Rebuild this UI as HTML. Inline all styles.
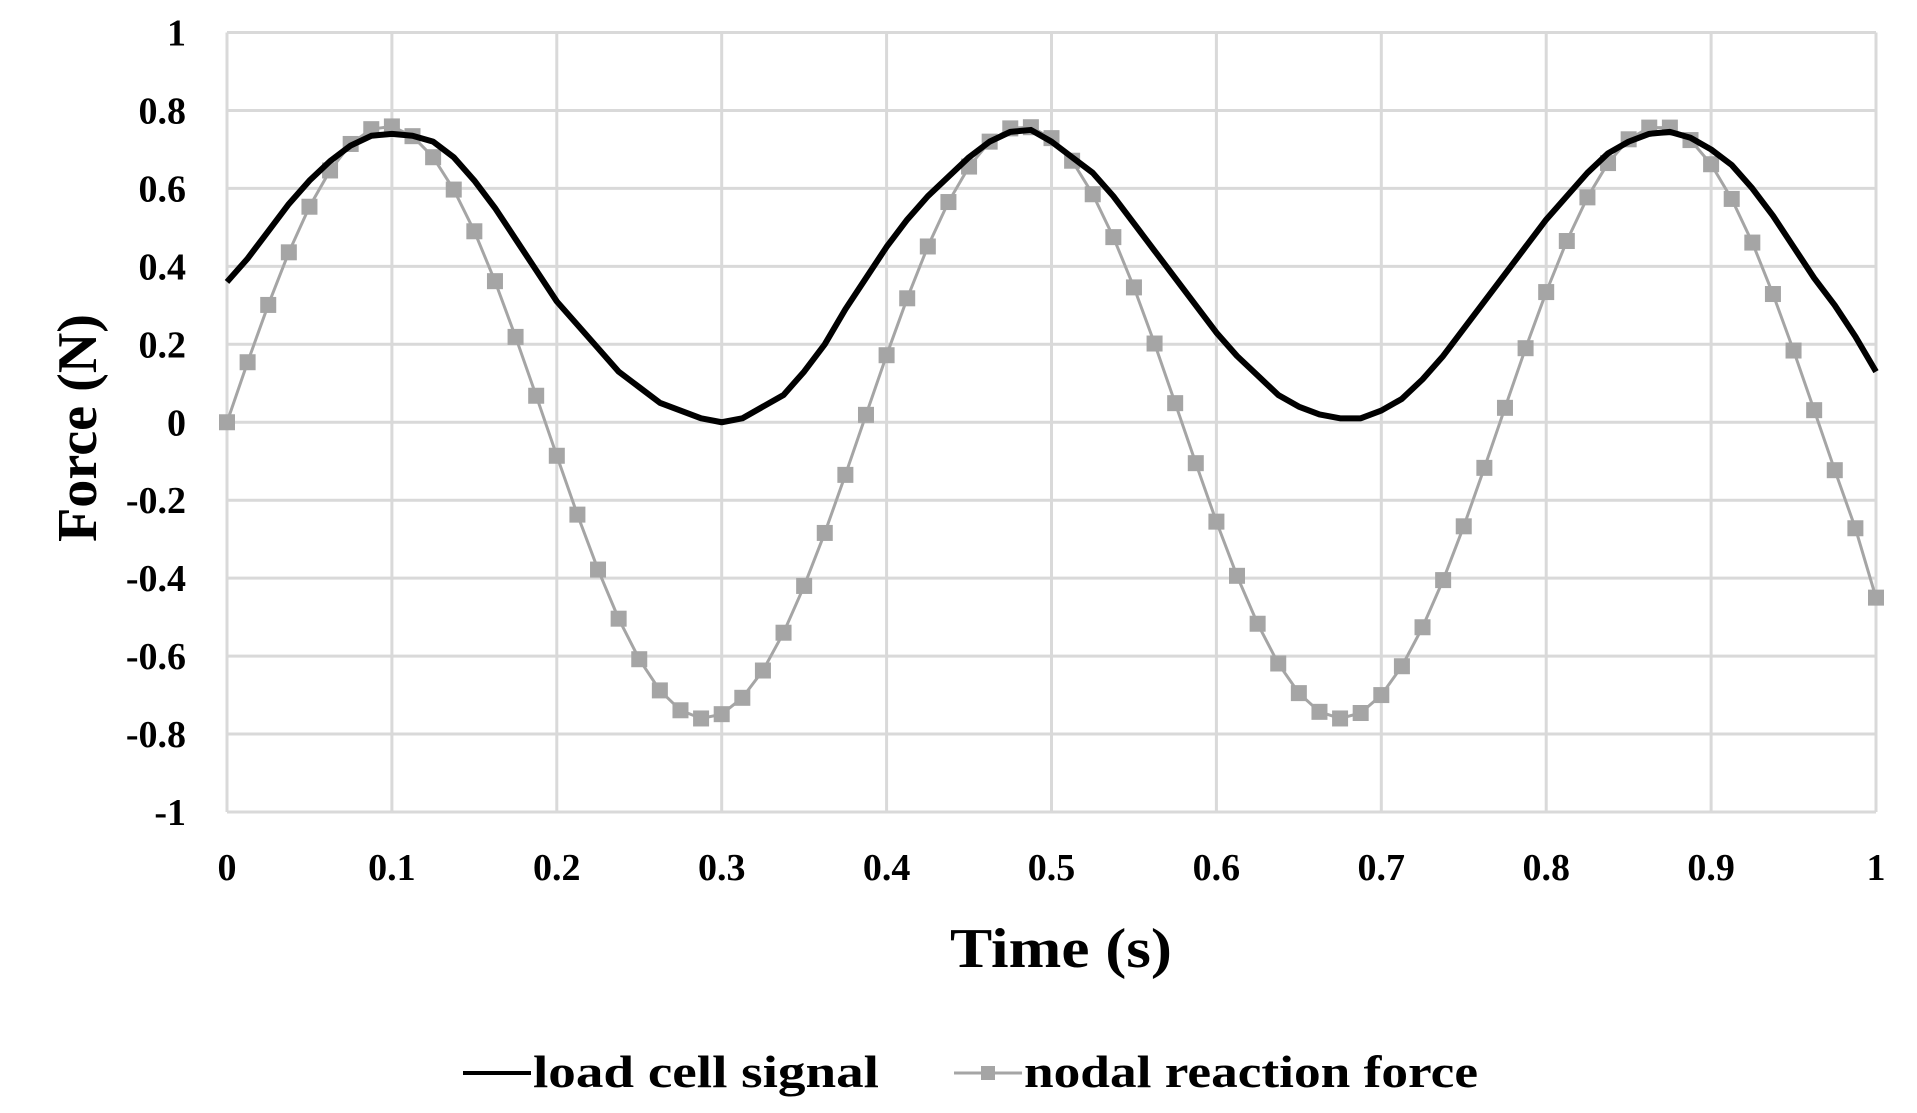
<!DOCTYPE html>
<html><head><meta charset="utf-8"><style>
html,body{margin:0;padding:0;background:#fff;}
svg{display:block;font-family:"Liberation Serif",serif;font-weight:bold;}
</style></head><body>
<svg id="chart" width="1917" height="1113" viewBox="0 0 1917 1113">
<g id="grid"></g>
<g id="yticks"></g>
<g id="xticks"></g>
<g id="series"></g>
<text x="0" y="0" transform="translate(96,428) rotate(-90)" text-anchor="middle" font-size="56" textLength="228" lengthAdjust="spacingAndGlyphs">Force (N)</text>
<text x="1061" y="967" text-anchor="middle" font-size="56" textLength="222" lengthAdjust="spacingAndGlyphs">Time (s)</text>
<g>
<g>
<line x1="463" y1="1073" x2="531" y2="1073" stroke="#000" stroke-width="4"/>
<text x="533" y="1087" font-size="46" textLength="346" lengthAdjust="spacingAndGlyphs">load cell signal</text>
</g>
<g>
<line x1="954" y1="1073" x2="1022" y2="1073" stroke="#a5a5a5" stroke-width="3"/>
<rect x="981" y="1066" width="14" height="14" fill="#a5a5a5"/>
<text x="1024" y="1087" font-size="46" textLength="454" lengthAdjust="spacingAndGlyphs">nodal reaction force</text>
</g>
</g>
</svg>
<script>
const xTicks=[0,0.1,0.2,0.3,0.4,0.5,0.6,0.7,0.8,0.9,1];
const xTickLabels=["0","0.1","0.2","0.3","0.4","0.5","0.6","0.7","0.8","0.9","1"];
const yTicks=[-1,-0.8,-0.6,-0.4,-0.2,0,0.2,0.4,0.6,0.8,1];
const yTickLabels=["-1","-0.8","-0.6","-0.4","-0.2","0","0.2","0.4","0.6","0.8","1"];
const timeStep=0.0125;
const nodalForce=[0,.154,.301,.436,.553,.646,.714,.752,.759,.734,.680,.597,.490,.362,.219,.068,-.086,-.237,-.378,-.504,-.608,-.688,-.739,-.760,-.749,-.707,-.637,-.540,-.420,-.284,-.135,.019,.172,.318,.451,.565,.656,.720,.754,.757,.729,.671,.585,.475,.346,.202,.049,-.105,-.255,-.394,-.517,-.619,-.695,-.743,-.760,-.746,-.700,-.626,-.526,-.405,-.267,-.117,.037,.190,.334,.465,.577,.665,.726,.756,.756,.724,.662,.573,.461,.329,.184,.031,-.123,-.272,-.45];
const loadCell=[.36,.42,.49,.56,.62,.67,.71,.735,.74,.735,.72,.68,.62,.55,.47,.39,.31,.25,.19,.13,.09,.05,.03,.01,.00,.01,.04,.07,.13,.20,.29,.37,.45,.52,.58,.63,.68,.72,.745,.75,.72,.68,.64,.58,.51,.44,.37,.30,.23,.17,.12,.07,.04,.02,.01,.01,.03,.06,.11,.17,.24,.31,.38,.45,.52,.58,.64,.69,.72,.74,.745,.73,.70,.66,.60,.53,.45,.37,.30,.22,.13];
const X0=227,X1=1876,Y0=812,Y1=32.5;
const sx=v=>X0+(v-0)/(1-0)*(X1-X0);
const sy=v=>Y0-(v+1)/2*(Y0-Y1);
const NS="http://www.w3.org/2000/svg";
function mk(tag,attrs,parent){const e=document.createElementNS(NS,tag);for(const k in attrs)e.setAttribute(k,attrs[k]);parent.appendChild(e);return e;}
const grid=document.getElementById('grid'),yt=document.getElementById('yticks'),xt=document.getElementById('xticks'),ser=document.getElementById('series');
yTicks.forEach((v,i)=>{
 const l=mk('line',{x1:X0,x2:X1,y1:sy(v),y2:sy(v),stroke:'#d9d9d9','stroke-width':3},grid);
 
 
 const t=mk('text',{x:186,y:sy(v)+13,'text-anchor':'end','font-size':38},yt);
 t.textContent=yTickLabels[i];
 
 
});
xTicks.forEach((v,i)=>{
 const l=mk('line',{x1:sx(v),x2:sx(v),y1:Y1,y2:Y0,stroke:'#d9d9d9','stroke-width':3},grid);
 
 
 const t=mk('text',{x:sx(v),y:880,'text-anchor':'middle','font-size':38},xt);
 t.textContent=xTickLabels[i];
 
 
});
const gp=nodalForce.map((v,i)=>sx(i*timeStep)+','+sy(v)).join(' ');
const gl=mk('polyline',{points:gp,fill:'none',stroke:'#a5a5a5','stroke-width':3},ser);


nodalForce.forEach((v,i)=>{
 const r=mk('rect',{x:sx(i*timeStep)-8,y:sy(v)-8,width:16,height:16,fill:'#a5a5a5'},ser);
 
 
});
const bp=loadCell.map((v,i)=>sx(i*timeStep)+','+sy(v)).join(' ');
const bl=mk('polyline',{points:bp,fill:'none',stroke:'#000','stroke-width':6,'stroke-linejoin':'round'},ser);


</script>
</body></html>
